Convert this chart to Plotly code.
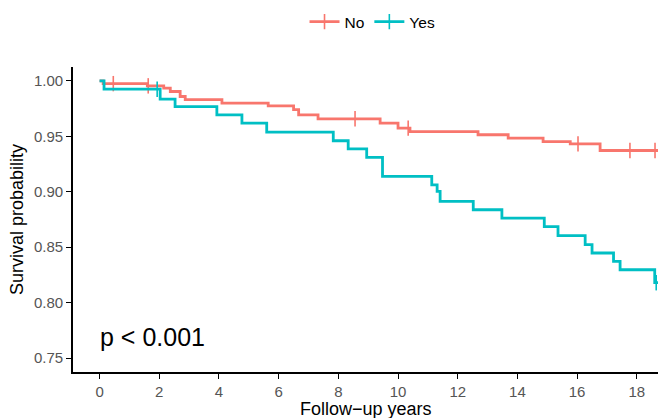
import plotly.graph_objects as go

# ---- data ----
no_times = [0, 0.12, 1.6, 2.15, 2.37, 2.7, 2.87, 4.1, 5.65, 6.5, 6.67, 7.32, 9.4, 10.0, 10.4,
            12.68, 13.69, 14.86, 15.77, 16.77, 18.75]
no_surv = [1.0, 0.9975, 0.9955, 0.9934, 0.9904, 0.9859, 0.983, 0.980, 0.9775, 0.974, 0.9694,
           0.9658, 0.9619, 0.9574, 0.9543, 0.9514, 0.9484, 0.9453, 0.9432, 0.9372, 0.9372]
no_cens_t = [0.46, 1.63, 8.56, 10.34, 16.03, 17.77, 18.61]
no_cens_s = [0.9975, 0.9955, 0.9658, 0.9574, 0.9432, 0.9372, 0.9372]

yes_times = [0, 0.15, 2.03, 2.53, 3.93, 4.77, 5.6, 7.83, 8.33, 8.95, 9.48, 11.13, 11.31, 11.41,
             12.52, 13.48, 14.9, 15.36, 16.27, 16.5, 17.22, 17.44, 18.6, 18.75]
yes_surv = [1.0, 0.9925, 0.9835, 0.9768, 0.9694, 0.9619, 0.9538, 0.946, 0.9387, 0.931, 0.9138,
            0.9063, 0.9003, 0.8913, 0.8838, 0.8763, 0.8685, 0.8604, 0.8523, 0.8448, 0.8372,
            0.8297, 0.818, 0.818]
yes_cens_t = [1.93, 18.65]
yes_cens_s = [0.9925, 0.818]

x_ticks = [0, 2, 4, 6, 8, 10, 12, 14, 16, 18]
y_ticks = [0.75, 0.80, 0.85, 0.90, 0.95, 1.00]
y_tick_labels = ["0.75", "0.80", "0.85", "0.90", "0.95", "1.00"]

RED = "#F8766D"
TEAL = "#00BFC4"
FONT = "Liberation Sans, Arial, Helvetica, sans-serif"

fig = go.Figure()

for name, t, s, ct, cs, col in [
    ("No", no_times, no_surv, no_cens_t, no_cens_s, RED),
    ("Yes", yes_times, yes_surv, yes_cens_t, yes_cens_s, TEAL),
]:
    fig.add_trace(go.Scatter(x=t, y=s, mode="lines", line=dict(color=col, width=2.8, shape="hv"),
                             showlegend=False, hoverinfo="skip"))
    fig.add_trace(go.Scatter(x=ct, y=cs, mode="markers",
                             marker=dict(symbol="line-ns", size=11, line=dict(color=col, width=1.6)),
                             showlegend=False, hoverinfo="skip"))
    # legend entry
    fig.add_trace(go.Scatter(x=[None], y=[None], mode="lines+markers", name=name,
                             line=dict(color=col, width=2.8),
                             marker=dict(symbol="line-ns", size=11, line=dict(color=col, width=1.6))))

fig.add_annotation(x=-0.05, y=0.769, xref="x", yref="y", text="p < 0.001", showarrow=False,
                   xanchor="left", yanchor="middle", font=dict(family=FONT, size=25, color="black"))

# x-axis title as an annotation so it can sit at the very bottom (partly clipped, like the reference)
fig.add_annotation(x=0.5, y=0, xref="paper", yref="paper", yshift=-37, text="Follow\u2212up years",
                   showarrow=False, xanchor="center", yanchor="middle",
                   font=dict(family=FONT, size=18, color="black"))

axis_common = dict(showgrid=False, zeroline=False, showline=True, linecolor="black", linewidth=1.6,
                   ticks="outside", ticklen=5, tickwidth=1.3, tickcolor="black",
                   tickfont=dict(family=FONT, size=15, color="#555555"))

fig.update_layout(
    width=658, height=418,
    margin=dict(l=73, r=0, t=67, b=46),
    paper_bgcolor="white", plot_bgcolor="white",
    font=dict(family=FONT),
    legend=dict(orientation="h", x=0.512, xanchor="center", y=0.988, yref="container", yanchor="top",
                font=dict(family=FONT, size=15.5, color="black"), bgcolor="rgba(0,0,0,0)",
                itemwidth=30),
    xaxis=dict(range=[-0.89, 18.71], tickvals=x_ticks, ticktext=[str(v) for v in x_ticks],
               **axis_common),
    yaxis=dict(range=[0.7375, 1.0125], tickvals=y_ticks, ticktext=y_tick_labels,
               title=dict(text="Survival probability", font=dict(family=FONT, size=18, color="black"),
                          standoff=6),
               **axis_common),
)

fig.write_html("out.html")
